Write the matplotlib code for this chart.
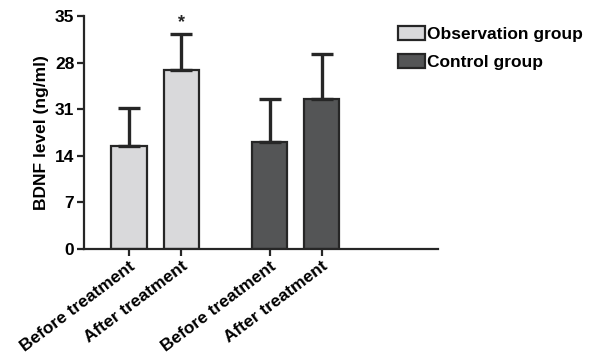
import matplotlib
matplotlib.use("Agg")
import matplotlib.pyplot as plt
from matplotlib.patches import Patch

plt.rcParams['font.family'] = ['Liberation Sans', 'DejaVu Sans']
plt.rcParams['font.weight'] = 'bold'

categories = ["Before treatment", "After treatment", "Before treatment", "After treatment"]
groups = ["Observation group", "Observation group", "Control group", "Control group"]
means = [15.5, 26.9, 16.1, 22.6]
errors = [5.7, 5.4, 6.4, 6.7]
ytick_values = [0, 7, 14, 21, 28, 35]
ytick_labels = ["0", "7", "14", "31", "28", "35"]
legend_names = ["Observation group", "Control group"]

colors = {"Observation group": "#d9d9db", "Control group": "#545556"}
edge = "#262626"

fig = plt.figure(figsize=(5.96, 3.53), dpi=100)
W, H = 596, 353
ax = fig.add_axes([84 / W, 1 - 249 / H, (438 - 84) / W, (249 - 16) / H])

positions = [0, 1, 2.68, 3.67]
for x, m, e, g in zip(positions, means, errors, groups):
    ax.bar(x, m, width=0.676, color=colors[g], edgecolor=edge, linewidth=1.6, zorder=2)
    ax.errorbar(x, m, yerr=[[0], [e]], fmt='none', ecolor=edge, elinewidth=2.4,
                capsize=8, capthick=2.4, zorder=3)

ax.text(positions[1], means[1] + errors[1] + 0.5, "*", ha='center', va='bottom',
        fontsize=13, color=edge)

ax.set_xlim(-0.857, 5.886)
ax.set_ylim(0, 35)
ax.set_yticks(ytick_values)
ax.set_yticklabels(ytick_labels, fontsize=12.5, fontweight='bold')
ax.set_xticks(positions)
ax.set_xticklabels(categories, rotation=37, ha='right', rotation_mode='anchor',
                   fontsize=12.5, fontweight='bold')
for s in ['top', 'right']:
    ax.spines[s].set_visible(False)
for s in ['left', 'bottom']:
    ax.spines[s].set_linewidth(1.6)
    ax.spines[s].set_color(edge)
ax.tick_params(axis='both', length=5, width=1.6, color=edge, pad=2)
ax.set_ylabel("BDNF level (ng/ml)", fontsize=12.5, fontweight='bold', labelpad=4)

handles = [Patch(facecolor=colors[n], edgecolor=edge, linewidth=1.6, label=n) for n in legend_names]
fig.legend(handles=handles, loc='upper left', bbox_to_anchor=(382 / W, 1 - 10 / H),
           frameon=False, handlelength=1.6, handleheight=0.9,
           handletextpad=0.1, labelspacing=0.7, prop={'weight': 'bold', 'size': 12.5})

fig.savefig("out.png", dpi=100)
